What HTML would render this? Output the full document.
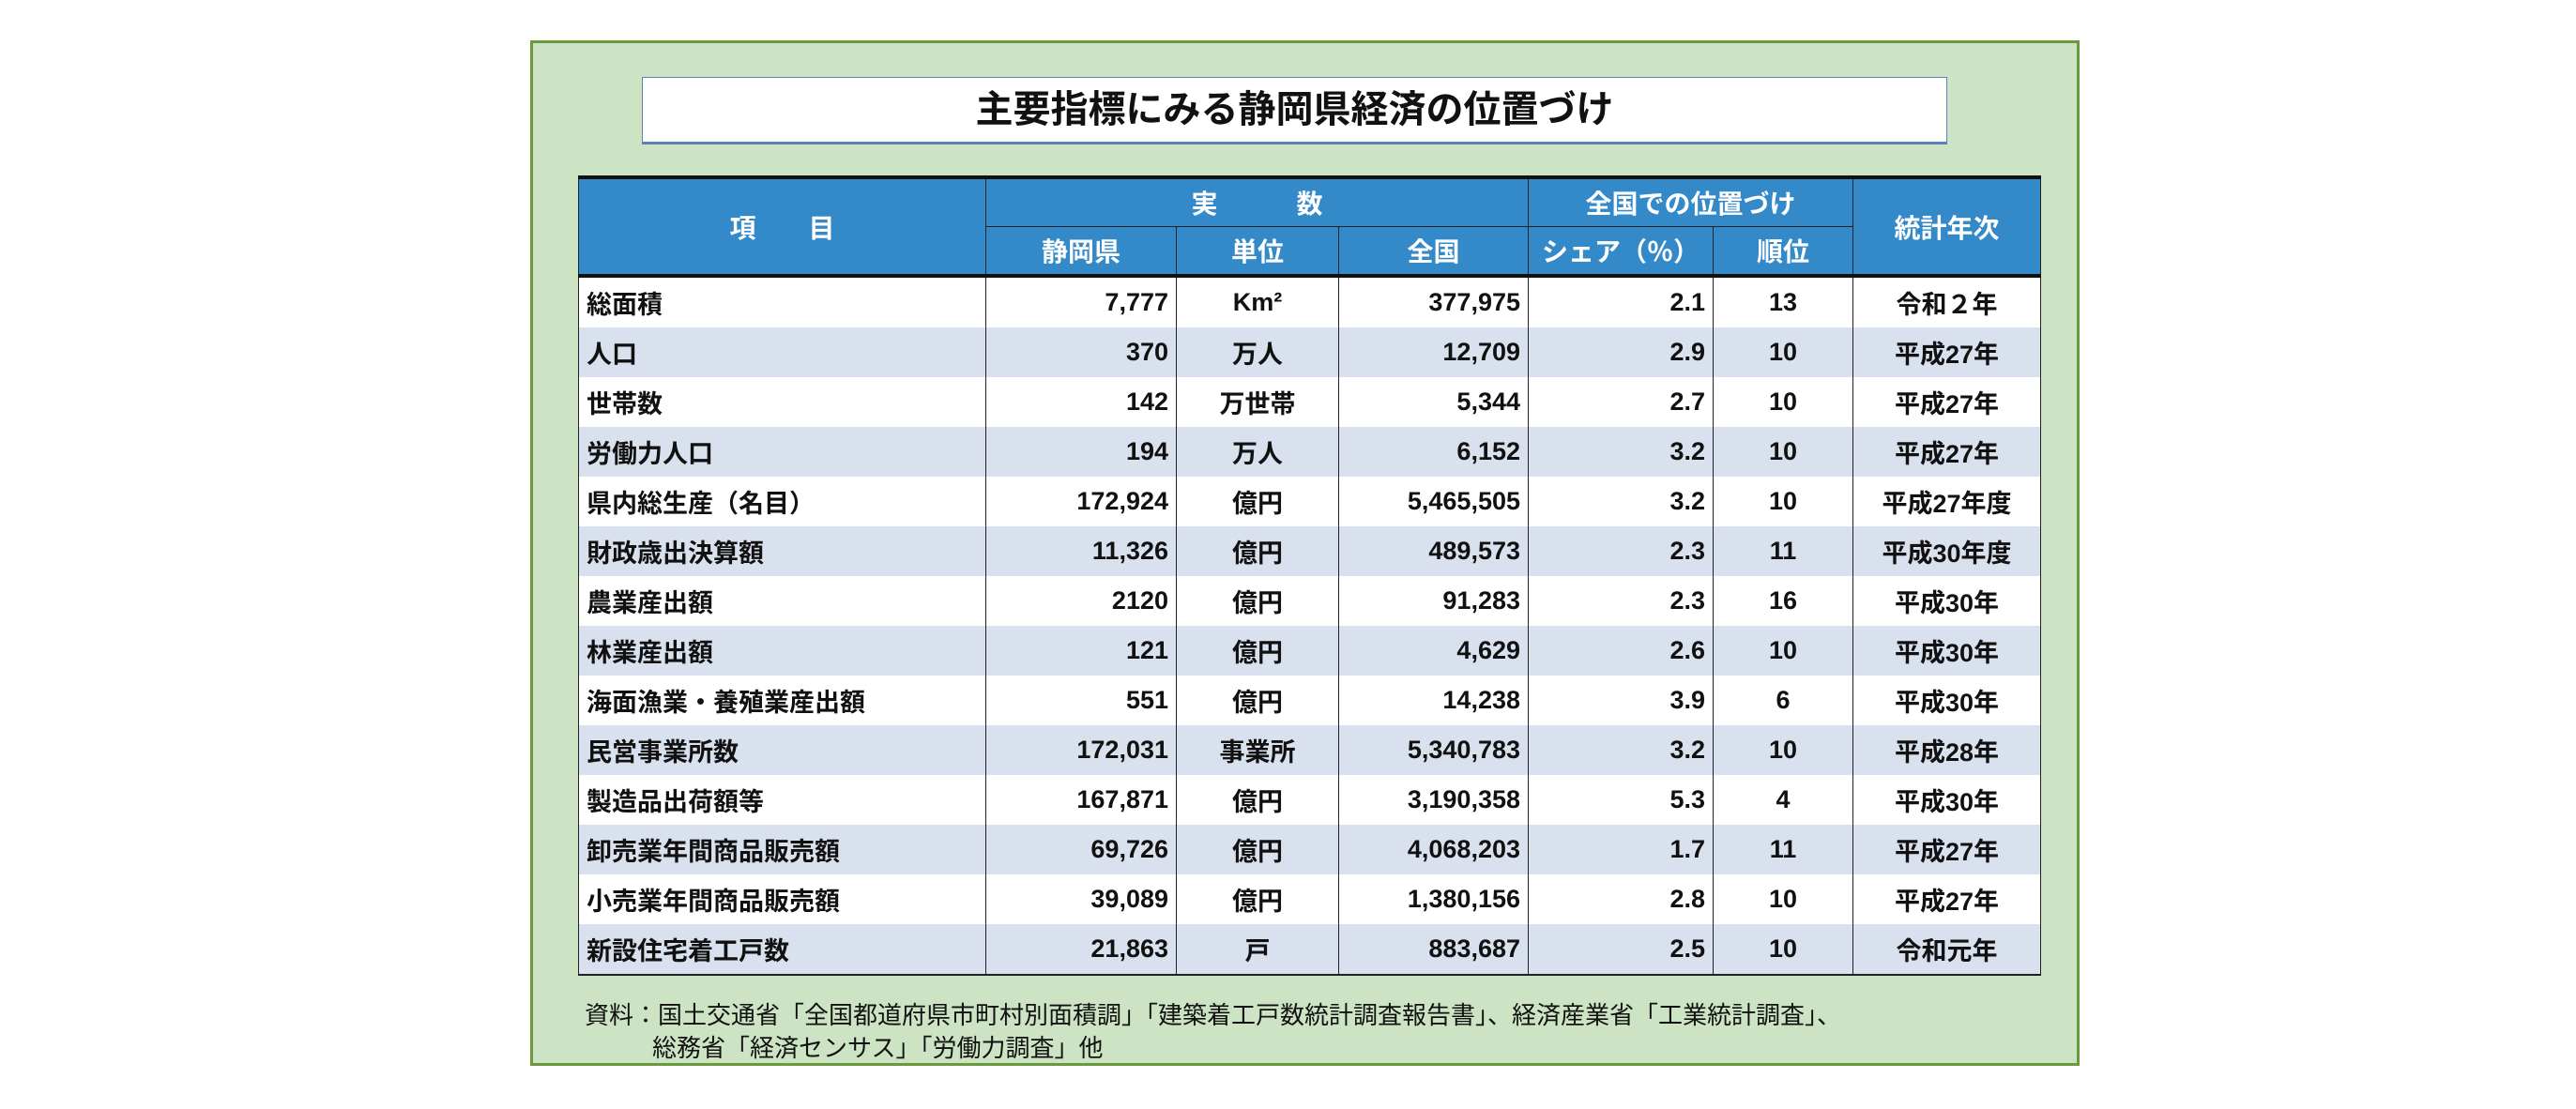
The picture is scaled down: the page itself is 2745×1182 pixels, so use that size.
<!DOCTYPE html>
<html><head><meta charset="utf-8"><style>
body{margin:0;width:2745px;height:1182px;background:#fff;position:relative;overflow:hidden;font-family:"Liberation Sans","Noto Sans CJK JP",sans-serif;}
#outer{position:absolute;left:565px;top:43px;width:1645px;height:1087px;background:#cce4c4;border:3px solid #6b9a3c;}
#title{position:absolute;left:684px;top:82px;width:1389px;height:68px;background:#fff;border:1px solid #5b7fbf;border-bottom:3px solid #5b7fbf;text-align:center;line-height:68px;font-size:40px;font-weight:bold;color:#111;}
table{position:absolute;left:616px;top:187px;border-collapse:collapse;table-layout:fixed;font-weight:bold;font-size:27px;color:#111;}
td{border-left:1px solid #222;border-right:1px solid #222;padding:0 8px;height:53px;white-space:nowrap;overflow:hidden;}
th{background:#3489c9;color:#fff;font-weight:bold;font-size:28px;border:1px solid #222;height:50px;padding:0;}
tr.h1 th{border-top:4px solid #111;}
tr.h2 th{border-bottom:4px solid #111;}
tr:nth-child(odd) td{background:#fff;}
tr:nth-child(even) td{background:#d9e0ee;}
tr:last-child td{border-bottom:2px solid #222;}
td.r{text-align:right;}td.c{text-align:center;}
.note{position:absolute;font-size:26px;color:#111;white-space:nowrap;}
</style></head><body>
<div id="outer"></div>
<div id="title">主要指標にみる静岡県経済の位置づけ</div>
<table>
<colgroup><col style="width:434px"><col style="width:203px"><col style="width:173px"><col style="width:202px"><col style="width:197px"><col style="width:149px"><col style="width:200px"></colgroup>
<tr class="h1"><th rowspan="2" style="border-bottom:4px solid #111">項　　目</th><th colspan="3">実　　　数</th><th colspan="2">全国での位置づけ</th><th rowspan="2" style="border-bottom:4px solid #111">統計年次</th></tr>
<tr class="h2"><th>静岡県</th><th>単位</th><th>全国</th><th>シェア（％）</th><th>順位</th></tr>
<tr><td>総面積</td><td class="r">7,777</td><td class="c">Km²</td><td class="r">377,975</td><td class="r">2.1</td><td class="c">13</td><td class="c">令和２年</td></tr>
<tr><td>人口</td><td class="r">370</td><td class="c">万人</td><td class="r">12,709</td><td class="r">2.9</td><td class="c">10</td><td class="c">平成27年</td></tr>
<tr><td>世帯数</td><td class="r">142</td><td class="c">万世帯</td><td class="r">5,344</td><td class="r">2.7</td><td class="c">10</td><td class="c">平成27年</td></tr>
<tr><td>労働力人口</td><td class="r">194</td><td class="c">万人</td><td class="r">6,152</td><td class="r">3.2</td><td class="c">10</td><td class="c">平成27年</td></tr>
<tr><td>県内総生産（名目）</td><td class="r">172,924</td><td class="c">億円</td><td class="r">5,465,505</td><td class="r">3.2</td><td class="c">10</td><td class="c">平成27年度</td></tr>
<tr><td>財政歳出決算額</td><td class="r">11,326</td><td class="c">億円</td><td class="r">489,573</td><td class="r">2.3</td><td class="c">11</td><td class="c">平成30年度</td></tr>
<tr><td>農業産出額</td><td class="r">2120</td><td class="c">億円</td><td class="r">91,283</td><td class="r">2.3</td><td class="c">16</td><td class="c">平成30年</td></tr>
<tr><td>林業産出額</td><td class="r">121</td><td class="c">億円</td><td class="r">4,629</td><td class="r">2.6</td><td class="c">10</td><td class="c">平成30年</td></tr>
<tr><td>海面漁業・養殖業産出額</td><td class="r">551</td><td class="c">億円</td><td class="r">14,238</td><td class="r">3.9</td><td class="c">6</td><td class="c">平成30年</td></tr>
<tr><td>民営事業所数</td><td class="r">172,031</td><td class="c">事業所</td><td class="r">5,340,783</td><td class="r">3.2</td><td class="c">10</td><td class="c">平成28年</td></tr>
<tr><td>製造品出荷額等</td><td class="r">167,871</td><td class="c">億円</td><td class="r">3,190,358</td><td class="r">5.3</td><td class="c">4</td><td class="c">平成30年</td></tr>
<tr><td>卸売業年間商品販売額</td><td class="r">69,726</td><td class="c">億円</td><td class="r">4,068,203</td><td class="r">1.7</td><td class="c">11</td><td class="c">平成27年</td></tr>
<tr><td>小売業年間商品販売額</td><td class="r">39,089</td><td class="c">億円</td><td class="r">1,380,156</td><td class="r">2.8</td><td class="c">10</td><td class="c">平成27年</td></tr>
<tr><td>新設住宅着工戸数</td><td class="r">21,863</td><td class="c">戸</td><td class="r">883,687</td><td class="r">2.5</td><td class="c">10</td><td class="c">令和元年</td></tr>
</table>
<div class="note" style="left:623px;top:1062px">資料：国土交通省「全国都道府県市町村別面積調」「建築着工戸数統計調査報告書」、経済産業省「工業統計調査」、</div>
<div class="note" style="left:695px;top:1097px">総務省「経済センサス」「労働力調査」他</div>
</body></html>
